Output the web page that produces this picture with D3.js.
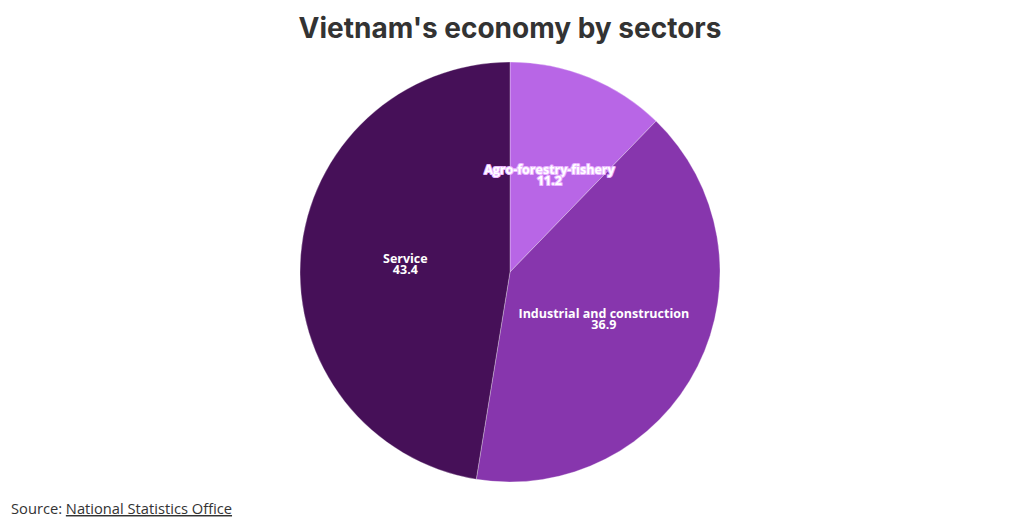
<!DOCTYPE html>
<html>
<head>
<meta charset="utf-8">
<script src="https://cdn.jsdelivr.net/npm/d3@7"></script>
<style>
  body { margin: 0; background: #fff; font-family: "Open Sans", "Noto Sans", sans-serif; }
  #chart { width: 1020px; height: 529px; }
</style>
</head>
<body>
<div id="chart"></div>
<script>
// Data
const sectors = ["Agro-forestry-fishery", "Industrial and construction", "Service"];
const shares = [11.2, 36.9, 43.4];
const colors = ["#b866e6", "#8736ad", "#461058"];

const width = 1020;
const height = 529;
const cx = 510;
const cy = 272;
const radius = 210;

const svg = d3.select("#chart")
  .append("svg")
  .attr("width", width)
  .attr("height", height);

// Title
svg.append("text")
  .attr("x", width / 2)
  .attr("y", 38)
  .attr("text-anchor", "middle")
  .style("font-family", "Inter, 'Open Sans', sans-serif")
  .style("font-weight", 700)
  .style("font-size", "28px")
  .style("fill", "#333")
  .text("Vietnam's economy by sectors");

const data = sectors.map((s, i) => ({ name: s, value: shares[i], color: colors[i] }));

const pie = d3.pie().sort(null).value((d) => d.value);
const arc = d3.arc().innerRadius(0).outerRadius(radius);

const g = svg.append("g").attr("transform", "translate(" + cx + "," + cy + ")");

const arcs = pie(data);

g.selectAll("path")
  .data(arcs)
  .enter()
  .append("path")
  .attr("d", arc)
  .attr("fill", (d) => d.data.color)
  .attr("stroke", "#ffffff")
  .attr("stroke-opacity", 0.5)
  .attr("stroke-width", 0.6);

// Labels at centroid, two lines in one text
const labels = g.selectAll("text.label")
  .data(arcs)
  .enter()
  .append("text")
  .attr("class", "label")
  .attr("transform", (d) => "translate(" + arc.centroid(d) + ")")
  .attr("text-anchor", "middle")
  .style("font-family", "'Open Sans', sans-serif")
  .style("font-weight", 700)
  .style("font-size", "12.5px")
  .style("fill", "#ffffff")
  .style("stroke", (d) => (d.index === 0 ? "#e9b6ff" : "none"))
  .style("stroke-width", 2.2)
  .style("stroke-linejoin", "round")
  .style("paint-order", "stroke");

labels.append("tspan").attr("x", 0).attr("y", -1).text((d) => d.data.name);
labels.append("tspan").attr("x", 0).attr("y", 10).text((d) => d.data.value);

// Source
const src = svg.append("text")
  .attr("x", 11)
  .attr("y", 514)
  .style("font-family", "'Open Sans', sans-serif")
  .style("font-size", "14.7px")
  .style("fill", "#333");
src.append("tspan").text("Source: ");
src.append("tspan")
  .style("text-decoration", "underline")
  .text("National Statistics Office");
</script>
</body>
</html>
